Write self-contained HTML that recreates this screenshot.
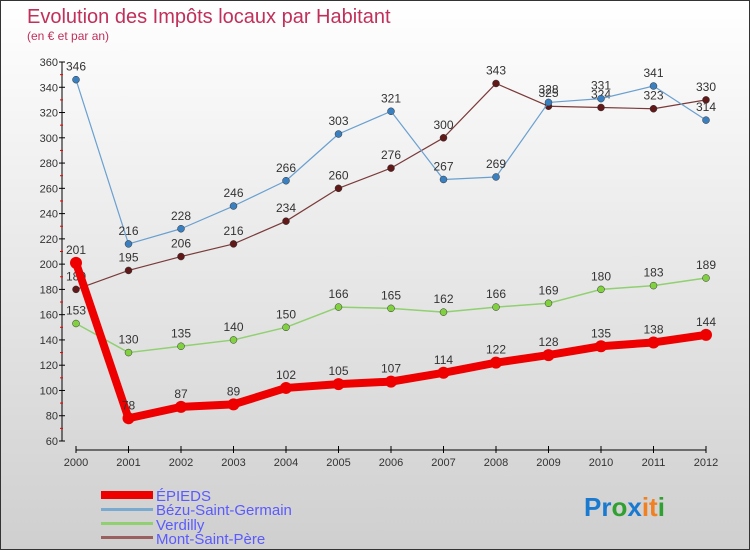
<!DOCTYPE html>
<html><head><meta charset="utf-8"><style>
body{margin:0}
#c{width:750px;height:550px;position:relative;overflow:hidden;box-sizing:border-box;border:1px solid #333;background:linear-gradient(#ffffff,#cfcfcf);font-family:"Liberation Sans",sans-serif}
svg text{font-family:"Liberation Sans",sans-serif}
</style></head><body>
<div id="c">
<svg id="s" width="750" height="550">
<text x="26" y="22" font-size="20" fill="#c0305a">Evolution des Impôts locaux par Habitant</text>
<text x="26" y="39" font-size="12" fill="#c0305a">(en € et par an)</text>
<g>
<rect x="100" y="490" width="52" height="8" fill="#e00"/>
<text x="155" y="500" font-size="15" fill="#5a5aff">ÉPIEDS</text>
<rect x="100" y="507" width="52" height="3" fill="#7aaad0"/>
<text x="155" y="514" font-size="15" fill="#5a5aff">Bézu-Saint-Germain</text>
<rect x="100" y="521" width="52" height="3" fill="#90d070"/>
<text x="155" y="529" font-size="15" fill="#5a5aff">Verdilly</text>
<rect x="100" y="535" width="52" height="3" fill="#9a6060"/>
<text x="155" y="543" font-size="15" fill="#5a5aff">Mont-Saint-Père</text>
</g>
<text x="583" y="515" font-size="26" font-weight="bold"><tspan fill="#1a7ad0">Pr</tspan><tspan fill="#30a030">o</tspan><tspan fill="#1a7ad0">x</tspan><tspan fill="#f08020">it</tspan><tspan fill="#30a030">i</tspan></text>
</svg>
</div>
<script>
const years=["2000","2001","2002","2003","2004","2005","2006","2007","2008","2009","2010","2011","2012"];
const yTicks=[60,80,100,120,140,160,180,200,220,240,260,280,300,320,340,360];
const epieds=[201,78,87,89,102,105,107,114,122,128,135,138,144];
const bezu=[346,216,228,246,266,303,321,267,269,328,331,341,314];
const verdilly=[153,130,135,140,150,166,165,162,166,169,180,183,189];
const mont=[180,195,206,216,234,260,276,300,343,325,324,323,330];
const NS="http://www.w3.org/2000/svg",s=document.getElementById('s');
const X=i=>75+i*52.5, Y=v=>440-(v-60)*(379/300);
function el(t,a,p){const e=document.createElementNS(NS,t);for(const k in a)e.setAttribute(k,a[k]);(p||s).appendChild(e);return e;}
// axes
const ax=el('g',{});


el('line',{x1:61,y1:61,x2:61,y2:440,stroke:'#000'},ax);
el('line',{x1:75,y1:449,x2:705,y2:449,stroke:'#000'},ax);
yTicks.forEach((v,i)=>{
 el('line',{x1:58,y1:Y(v),x2:64,y2:Y(v),stroke:'#000'},ax);
 if(i<yTicks.length-1) el('line',{x1:59,y1:Y(v+10),x2:62,y2:Y(v+10),stroke:'#e00'},ax);
 const t=el('text',{x:57,y:Y(v)+4,'font-size':11,'text-anchor':'end',fill:'#333'},ax);t.textContent=v;
 
 
});
years.forEach((y,i)=>{
 el('line',{x1:X(i),y1:445,x2:X(i),y2:452,stroke:'#000'},ax);
 const t=el('text',{x:X(i),y:465,'font-size':11,'text-anchor':'middle',fill:'#333'},ax);t.textContent=y;
 
 
});
function series(d,col,w,r,dot,name){
 const g=el('g',{});
 
 
 el('polyline',{points:d.map((v,i)=>X(i)+','+Y(v)).join(' '),fill:'none',stroke:col,'stroke-width':w,'stroke-linejoin':'round'},g);
 d.forEach((v,i)=>{
  const c=el('circle',{cx:X(i),cy:Y(v),r:r,fill:dot,stroke:'#333','stroke-width':r>5?0:0.5},g);
  
  
  const t=el('text',{x:X(i),y:Y(v)-9,'font-size':12,'text-anchor':'middle',fill:'#333'},g);t.textContent=v;
  
  
 });
}
series(verdilly,'#90d070',1.5,3.5,'#80d040','series-verdilly');
series(mont,'#7a3a3a',1.2,3.5,'#601818','series-mont-saint-pere');
series(bezu,'#6aa0d0',1.2,3.5,'#3a80c0','series-bezu-saint-germain');
series(epieds,'#ee0000',8,6,'#ee0000','series-epieds');
</script>
</body></html>
